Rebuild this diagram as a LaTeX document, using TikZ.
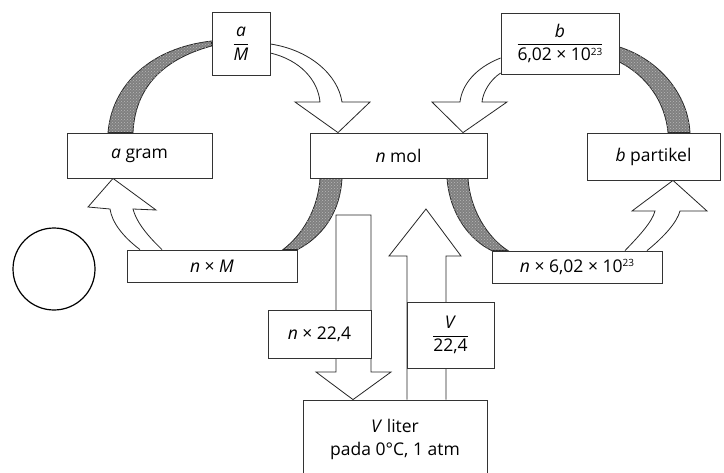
\documentclass[tikz,border=0pt]{standalone}
\usepackage{fontspec}
\setmainfont{Open Sans}
\usetikzlibrary{patterns}
\pgfdeclarelayer{bg}
\pgfsetlayers{bg,main}
\newcommand{\mysup}[1]{\raisebox{0.6ex}{\fontsize{10}{10}\selectfont #1}}
\begin{document}
\begin{tikzpicture}[x=1pt,y=-1pt,
  box/.style={draw=black!80, line width=0.8pt, fill=white, inner sep=0pt,
    align=center, font=\fontsize{17.5}{20}\selectfont},
  band/.style={draw=black!85, line width=0.8pt, fill=black!50,
    postaction={pattern=crosshatch dots, pattern color=black!28}},
  warrow/.style={draw=black!85, line width=0.8pt, fill=white, line join=miter}]
\useasboundingbox (0,0) rectangle (724,472);

% boxes
\node[box, minimum width=58, minimum height=63] (aM) at (241,43.5)
  {$\displaystyle\frac{\mbox{\textit{a}}}{\mbox{\textit{M}}}$};
\node[box, minimum width=145, minimum height=45] (agram) at (139.5,155.5)
  {\textit{a} gram};
\node[box, minimum width=177, minimum height=45] (nmol) at (398.5,155.5)
  {\textit{n} mol};
\node[box, minimum width=118, minimum height=61] (bN) at (560,43.5)
  {$\displaystyle\frac{\mbox{\textit{b}}}{\mbox{6,02 × 10\mysup{23}}}$};
\node[box, minimum width=133, minimum height=47] (bpart) at (653.5,156.5)
  {\textit{b} partikel};
\node[box, minimum width=170, minimum height=32] (nM) at (212,266)
  {\textit{n} × \textit{M}};
\node[box, minimum width=170, minimum height=32] (n602) at (577,267)
  {\textit{n} × 6,02 × 10\mysup{23}};
\node[box, minimum width=103, minimum height=48] (n224) at (319.5,334)
  {\textit{n} × 22,4};
\node[box, minimum width=87, minimum height=66] (V224) at (450.5,335)
  {$\displaystyle\frac{\mbox{\textit{V}}}{\mbox{22,4}}$};
\begin{scope}
\clip (0,0) rectangle (724,472);
\node[box, minimum width=184, minimum height=78, font=\fontsize{17.5}{23}\selectfont] (Vliter) at (395,439)
  {\textit{V} liter\\pada 0°C, 1 atm};
\end{scope}
\node[draw=black, circle, line width=1.2pt, minimum size=82, inner sep=0pt] (ring) at (54,269) {};

\begin{pgfonlayer}{bg}
\fill[white] (0,0) rectangle (724,472);
% shaded bands
\draw[band] (aM.west |- 0,41) .. controls (150,48) and (112,85) .. (agram.north -| 108,0)
  -- (agram.north -| 133,0) .. controls (135,90) and (160,60) .. (aM.west |- 0,46) -- cycle;
\draw[band] (nmol.south -| 320,0) .. controls (318,210) and (302,235) .. (nM.north -| 283,0)
  -- (nM.north east) .. controls (320,238) and (340,215) .. (nmol.south -| 342,0) -- cycle;
\draw[band] (nmol.south -| 447,0) .. controls (450,215) and (470,240) .. (n602.north west)
  -- (n602.north -| 508,0) .. controls (488,238) and (470,210) .. (nmol.south -| 468,0) -- cycle;
\draw[band] (bN.east |- 0,47) .. controls (660,60) and (688,95) .. (bpart.north -| 690,0)
  -- (bpart.north -| 668,0) .. controls (665,100) and (645,75) .. (bN.east |- 0,62) -- cycle;

% white curved arrows
\draw[warrow] (aM.east |- 0,44) .. controls (310,50) and (338,75) .. (342,102) -- (370,102)
  -- (nmol.north -| 338,0) -- (295,102) -- (320,102) .. controls (318,80) and (300,60) .. (aM.east |- 0,53);
\draw[warrow] (nM.north -| 140,0) .. controls (122,236) and (112,222) .. (110,209) -- (88,207)
  -- (agram.south -| 113,0) -- (156,210) -- (133,209) .. controls (137,224) and (150,238) .. (nM.north -| 162,0);
\draw[warrow] (bN.west |- 0,58) .. controls (475,68) and (462,85) .. (460,102) -- (432,102)
  -- (nmol.north -| 463,0) -- (507,102) -- (482,102) .. controls (483,92) and (490,80) .. (bN.west |- 0,73);
\draw[warrow] (n602.north -| 625,0) .. controls (640,235) and (652,222) .. (655,211) -- (632,211)
  -- (bpart.south -| 673,0) -- (707,211) -- (680,211) .. controls (677,222) and (665,236) .. (n602.north -| 647,0);

% straight arrows
\draw[warrow] (336,215) -- (371,215) -- (371,372) -- (391,372) -- (Vliter.north -| 353,0)
  -- (316,372) -- (336,372) -- cycle;
\draw[warrow] (Vliter.north -| 407,0) -- (407,256) -- (389,256) -- (426,209) -- (461,256)
  -- (446,256) -- (Vliter.north -| 446,0);
\end{pgfonlayer}
\end{tikzpicture}
\end{document}
